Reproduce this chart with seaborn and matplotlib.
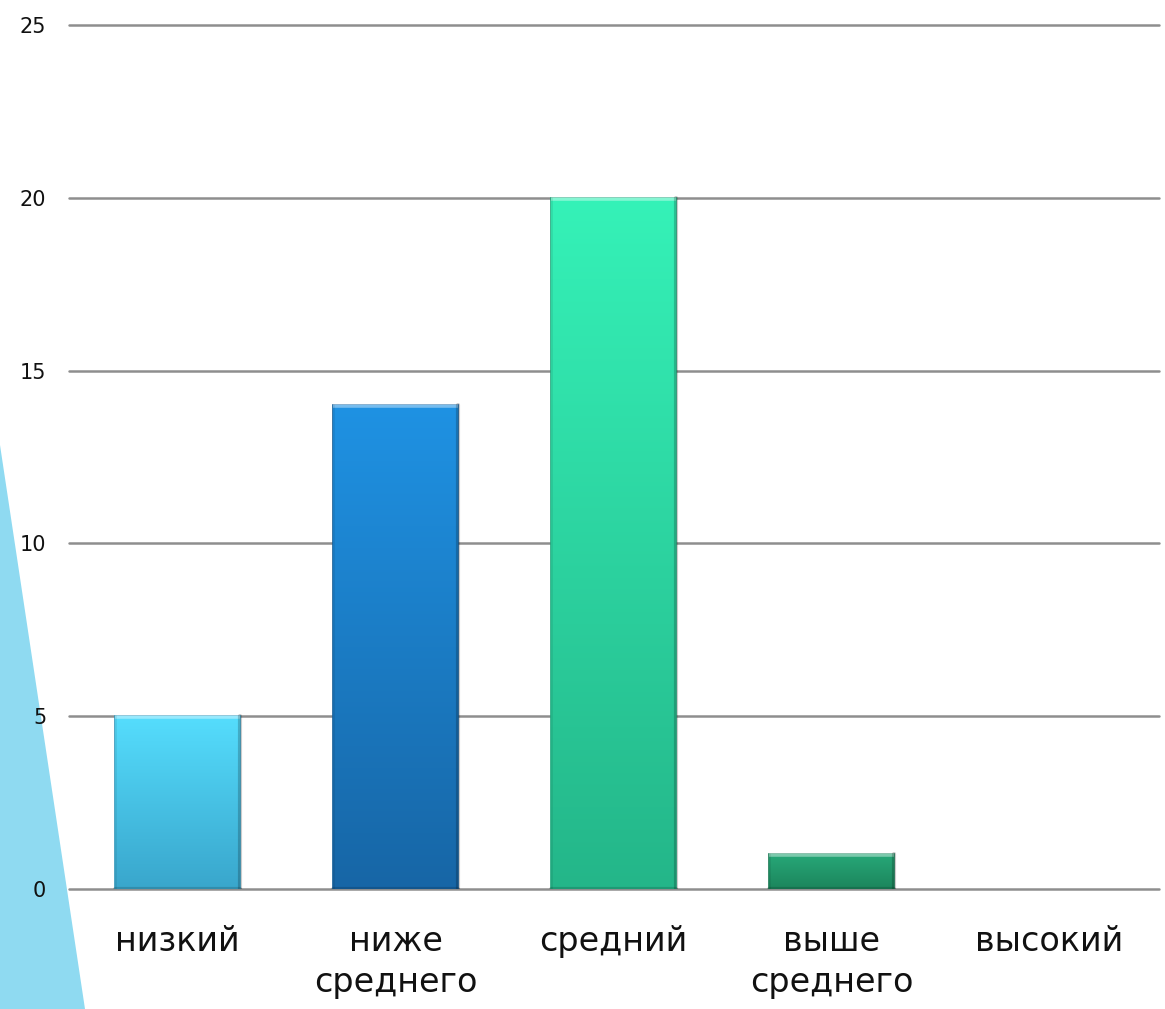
import numpy as np
import pandas as pd
import matplotlib
matplotlib.use("Agg")
import matplotlib.pyplot as plt
import seaborn as sns
from matplotlib.colors import LinearSegmentedColormap
from matplotlib.patches import Polygon

categories = ["низкий", "ниже\nсреднего", "средний", "выше\nсреднего", "высокий"]
values = [5, 14, 20, 1, 0]
y_ticks = [0, 5, 10, 15, 20, 25]

top_colors = ["#55DDFD", "#1F92E3", "#35F2B8", "#27A878", "#27A878"]
bot_colors = ["#39A6CC", "#1766A6", "#24B689", "#1C855C", "#1C855C"]

sns.set_theme(style="white")
plt.rcParams['font.family'] = ['DejaVu Sans']

fig = plt.figure(figsize=(11.65, 10.09), dpi=100)
fig.patch.set_facecolor("white")

# decorative slide shape on the left
deco = Polygon([(0, 1 - 445/1009), (85/1165, 0), (0, 0)], closed=True,
               transform=fig.transFigure, facecolor="#8FDAF1", edgecolor="none", zorder=-5)
fig.patches.append(deco)

ax = fig.add_axes([68.5/1165, 1 - 889/1009, 1090/1165, (889 - 25)/1009])
ax.patch.set_alpha(0)
ax.set_zorder(2)

df = pd.DataFrame({"cat": categories, "val": values})
sns.barplot(data=df, x="cat", y="val", ax=ax, width=0.57,
            palette=top_colors, hue="cat", legend=False, zorder=3)

ax.set_ylim(0, 25)
ax.set_xlim(-0.5, 4.5)
ax.set_yticks(y_ticks)
ax.set_yticklabels([str(t) for t in y_ticks], fontsize=15, color="#111111")
ax.tick_params(axis="y", length=0, pad=16)
ax.tick_params(axis="x", length=0, pad=26, labelsize=24, labelcolor="#111111")
for lbl in ax.get_xticklabels():
    lbl.set_linespacing(1.3)
ax.set_xlabel("")
ax.set_ylabel("")
for s in ax.spines.values():
    s.set_visible(False)
ax.yaxis.grid(True, color="#8E8E8E", linewidth=1.8, zorder=1)
ax.set_axisbelow(True)
for gl in ax.get_ygridlines():
    gl.set_clip_on(False)

# gradient overlay on bars with bevel effect
for i, p in enumerate(ax.patches):
    h = p.get_height()
    if h <= 0:
        p.set_visible(False)
        continue
    x0 = p.get_x(); w = p.get_width()
    cmap = LinearSegmentedColormap.from_list("g", [bot_colors[i], top_colors[i]])
    grad = np.linspace(0, 1, 256).reshape(-1, 1)
    im = ax.imshow(grad, cmap=cmap, origin="lower", aspect="auto",
                   extent=(x0, x0 + w, 0, h), zorder=4)
    im.set_clip_path(p)
    p.set_edgecolor(bot_colors[i])
    p.set_linewidth(1.2)
    ax.plot([x0, x0 + w], [h, h], color="white", alpha=0.4, lw=4, zorder=5,
            solid_capstyle="butt")
    ax.plot([x0 + w, x0 + w], [0, h], color="black", alpha=0.2, lw=3, zorder=5)
    ax.plot([x0, x0 + w], [0, 0], color="black", alpha=0.15, lw=3, zorder=5)
    ax.plot([x0, x0], [0, h], color="black", alpha=0.08, lw=2, zorder=5)

ax.set_xlim(-0.5, 4.5)
ax.set_ylim(0, 25)

fig.savefig("out.png", dpi=100)
